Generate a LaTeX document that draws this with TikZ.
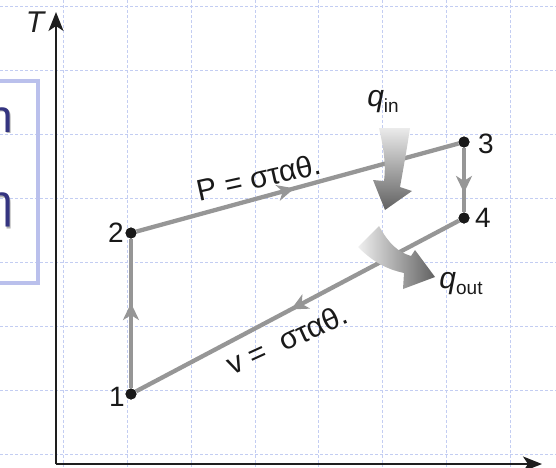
\documentclass[tikz,border=0pt]{standalone}
\usepackage{fontspec}
\setmainfont{Liberation Sans}
\usetikzlibrary{arrows.meta,decorations.markings}
\definecolor{gridc}{RGB}{195,205,242}
\definecolor{boxc}{RGB}{186,192,236}
\definecolor{linec}{RGB}{150,150,150}
\definecolor{axisc}{RGB}{30,30,30}
\definecolor{txtblue}{RGB}{52,52,128}
\tikzset{
  gridline/.style={gridc, line width=0.9pt, dash pattern=on 3pt off 2pt},
  axisline/.style={axisc, line width=2pt, -{Stealth[length=19pt,width=15pt,inset=5pt]}},
  cyc/.style={linec, line width=4.3pt},
  midarrow/.style={postaction={decorate,decoration={markings,
     mark=at position #1 with {\arrow{Stealth[length=17pt,width=16pt,inset=5pt]}}}}},
  dotnode/.style={circle, fill=black!90, inner sep=0pt, minimum size=11pt},
  numlab/.style={font=\fontsize{28pt}{28pt}\selectfont, text=black!90, inner sep=0pt},
  curvelab/.style={font=\fontsize{30pt}{30pt}\selectfont, text=black!90, inner sep=0pt},
  qlab/.style={font=\fontsize{30pt}{30pt}\selectfont, text=black!90, inner sep=0pt},
  boxtxt/.style={font=\fontsize{46pt}{46pt}\selectfont, text=txtblue, inner sep=0pt, anchor=east},
}
\newcommand{\subtxt}[1]{\raisebox{-6pt}{\fontsize{19pt}{19pt}\selectfont #1}}
\begin{document}
\begin{tikzpicture}[x=1pt,y=-1pt]
\useasboundingbox (0,0) rectangle (556,467);
\clip (0,0) rectangle (556,467);
% grid
\foreach \gx in {63,127,191,255,318,382,446,510}
  \draw[gridline] (\gx,0) -- (\gx,467);
\foreach \gy in {6,70,134,198,262,326,390,454}
  \draw[gridline] (0,\gy) -- (556,\gy);
% left box with cut-off text
\draw[boxc, line width=3.5pt] (-20,81) rectangle (38,283);
\node[boxtxt, text=black!30] at (14.5,121.5) {n};
\node[boxtxt] (bt1) at (13,120) {n};
\node[boxtxt, text=black!30] at (14.5,211.5) {η};
\node[boxtxt] (bt2) at (13,210) {η};
% axes
\coordinate (O) at (56,464);
\coordinate (Ytip) at (56,12);
\coordinate (Xtip) at (542,464);
\draw[axisline] (O) -- (Ytip);
\draw[axisline] (O) -- (Xtip);
\node[font=\fontsize{30pt}{30pt}\selectfont\itshape, text=black!88, inner sep=0pt] (T) at (35,22) {T};
% state points
\node[dotnode] (p1) at (131,394) {};
\node[dotnode] (p2) at (131,233) {};
\node[dotnode] (p3) at (464,142) {};
\node[dotnode] (p4) at (464,218) {};
% cycle
\draw[cyc, midarrow=0.57] (p1) -- (p2);
\draw[cyc, midarrow=0.49] (p2) -- (p3);
\draw[cyc, midarrow=0.70] (p3) -- (p4);
\draw[cyc, midarrow=0.52] (p4) -- (p1);
% redraw dots on top
\fill[black!90] (p1) circle (5.5pt) (p2) circle (5.5pt) (p3) circle (5.5pt) (p4) circle (5.5pt);
% point labels
\node[numlab] (l1) at (117,397) {1};
\node[numlab] (l2) at (116,233) {2};
\node[numlab] (l3) at (486,144) {3};
\node[numlab] (l4) at (483,218) {4};
% process labels
\node[curvelab, rotate=12.5] (plab) at (259,177) {P = σταθ.};
\node[curvelab, rotate=24.5] (vlab) at (287,339) {v =\ \ σταθ.};
% heat arrows
\shade[top color=black!8, bottom color=black!62]
  (379,128) .. controls (384,150) and (386,165) .. (384,181)
  -- (373,180) -- (385,210) -- (412,191) -- (400,187)
  .. controls (404,165) and (407,148) .. (410,128) -- cycle;
\shade[left color=black!6, right color=black!62]
  (358,247) .. controls (375,264) and (390,270) .. (404,273)
  -- (403,289) -- (435,277) -- (415,250) -- (411,256)
  .. controls (398,252) and (389,244) .. (379,226) -- cycle;
\node[qlab] (qin) at (383,102) {\textit{q}\subtxt{in}};
\node[qlab] (qout) at (461,284) {\textit{q}\subtxt{out}};
\end{tikzpicture}
\end{document}
